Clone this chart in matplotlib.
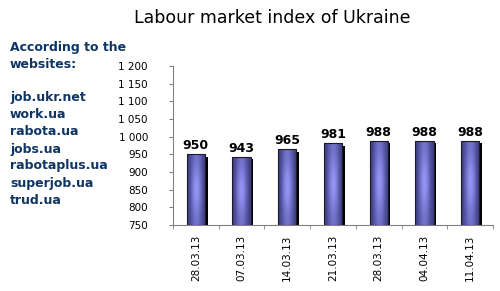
import numpy as np
import matplotlib
matplotlib.use("Agg")
import matplotlib.pyplot as plt
from matplotlib.patches import Rectangle
from matplotlib.colors import LinearSegmentedColormap
from matplotlib.ticker import FuncFormatter, MultipleLocator, FixedLocator

categories = ["28.03.13", "07.03.13", "14.03.13", "21.03.13", "28.03.13", "04.04.13", "11.04.13"]
values = [950, 943, 965, 981, 988, 988, 988]
sites = ["job.ukr.net", "work.ua", "rabota.ua", "jobs.ua", "rabotaplus.ua", "superjob.ua", "trud.ua"]
title = "Labour market index of Ukraine"

W, H = 500, 291
fig = plt.figure(figsize=(W/100, H/100), dpi=100)
ax = fig.add_axes([173/W, 1-225/H, (493-173)/W, (225-66)/H])

cmap = LinearSegmentedColormap.from_list("g", ["#404082", "#6a6ac0", "#9494f4"])
bw = 0.40
gx = np.linspace(0, 1, 64)
gy = np.linspace(0, 1, 64)
X, Y = np.meshgrid(gx, gy)
img_data = (0.5 + 0.5*np.cos(np.pi*(2*X-1))) * (0.8 + 0.2*np.cos(np.pi*(2*Y-1)))

dx = 2.5 * len(categories) / (493-173)
dy = 2.5 * 450 / (225-66)
for i, v in enumerate(values):
    x0 = i + 0.5 - bw/2
    sh = Rectangle((x0+dx, 750), bw, v-750-dy, facecolor="black", edgecolor="none", zorder=2)
    ax.add_patch(sh)
    rect = Rectangle((x0, 750), bw, v-750, facecolor="none", edgecolor="#1a1a2a", linewidth=0.8, zorder=4)
    ax.add_patch(rect)
    im = ax.imshow(img_data, cmap=cmap, vmin=0, vmax=1, extent=(x0, x0+bw, 750, v),
                   aspect="auto", origin="lower", zorder=3, interpolation="bilinear")
    im.set_clip_path(rect)
    ax.text(i + 0.5, v + 6, str(v), ha="center", va="bottom", fontsize=9,
            fontweight="bold", color="black", zorder=5)

ax.set_xlim(0, len(categories))
ax.set_ylim(750, 1200)

ax.yaxis.set_major_locator(MultipleLocator(50))
ax.yaxis.set_major_formatter(FuncFormatter(lambda v, p: f"{int(v):,}".replace(",", " ")))
ax.tick_params(axis="y", direction="out", length=3, color="#808080", labelsize=7.5)
for t in ax.yaxis.get_major_ticks():
    t.set_pad(15)

ax.xaxis.set_major_locator(FixedLocator([i + 0.5 for i in range(len(categories))]))
ax.set_xticklabels(categories, rotation=90, fontsize=7.5)
ax.xaxis.set_minor_locator(FixedLocator(list(range(len(categories)+1))))
ax.tick_params(axis="x", which="major", length=0, pad=7)
ax.tick_params(axis="x", which="minor", direction="out", length=3, color="#808080")

for s in ["top", "right"]:
    ax.spines[s].set_visible(False)
for s in ["left", "bottom"]:
    ax.spines[s].set_color("#808080")
    ax.spines[s].set_linewidth(0.8)

fig.text(272/W, 1-18/H, title, ha="center", va="center", fontsize=12.5, color="black")

navy = "#0f3565"
fig.text(10/W, 1-48/H, "According to the", ha="left", va="center", fontsize=9, fontweight="bold", color=navy)
fig.text(10/W, 1-65/H, "websites:", ha="left", va="center", fontsize=9, fontweight="bold", color=navy)
for k, s in enumerate(sites):
    fig.text(10/W, 1-(98 + 17*k)/H, s, ha="left", va="center", fontsize=9, fontweight="bold", color=navy)

fig.savefig("out.png", dpi=100)
